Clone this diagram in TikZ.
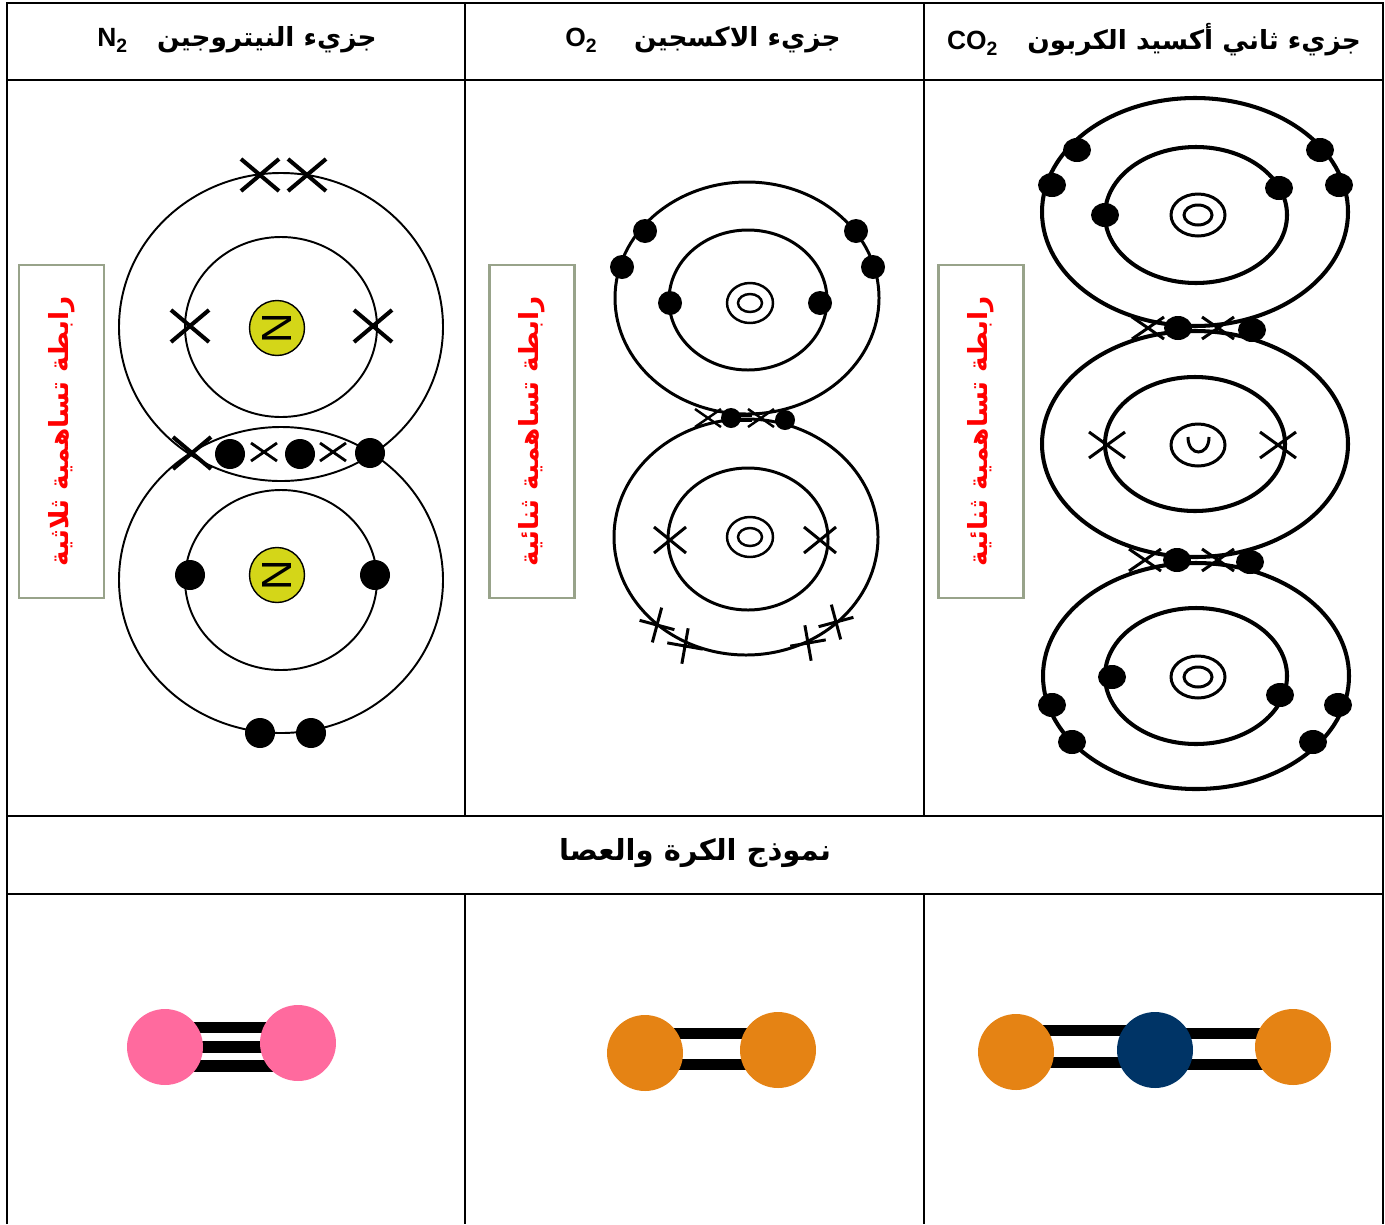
\documentclass[tikz,border=0pt]{standalone}
\usepackage{fontspec}
\usepackage{tikz}
\usetikzlibrary{backgrounds}
\setmainfont{Liberation Sans}
\newfontfamily\arabicfont[Script=Arabic]{DejaVu Sans}
\TeXXeTstate=1
\definecolor{boxgreen}{RGB}{152,163,138}
\definecolor{nitropink}{RGB}{255,106,158}
\definecolor{oxyorange}{RGB}{229,131,20}
\definecolor{carbonnavy}{RGB}{0,52,102}
\definecolor{nucleusyellow}{RGB}{212,214,24}

\newcommand{\artext}[1]{{\arabicfont\beginR #1\endR}}
\newcommand{\subtwo}{\raisebox{-0.4ex}{\fontsize{11}{11}\selectfont 2}}
% cross of half width #3 and half height #4 centred at #2
\newcommand{\ecross}[4][]{\draw[#1, shift={#2}] (-#3,-#4) -- (#3,#4) (-#3,#4) -- (#3,-#4);}
% upright cross turned by #3
\newcommand{\tcross}[4][]{\draw[#1, shift={#2}, rotate=#3] (-#4,0) -- (#4,0) (0,-#4) -- (0,#4);}

\begin{document}
\begin{tikzpicture}[x=0.02cm, y=-0.02cm]
    \tikzstyle{grid} = [line width=1.4pt]
    \tikzstyle{head} = [font=\fontsize{15}{18}\selectfont\bfseries, inner sep=0]
    \tikzstyle{bondbox} = [rectangle, draw=boxgreen, line width=1.6pt, rotate=90, minimum width=6.66cm, minimum height=1.7cm, text=red, font=\fontsize{15}{15}\selectfont\bfseries]
    \tikzstyle{nucleus} = [circle, draw, line width=0.8pt, fill=nucleusyellow, minimum size=1.1cm, inner sep=0, rotate=90, font=\fontsize{24}{24}\selectfont]
    \tikzstyle{ball} = [circle, minimum size=1.52cm, inner sep=0]
    \tikzstyle{stick} = [line width=6.3pt]
    \tikzstyle{thinshell} = [line width=1.1pt]
    \tikzstyle{shell} = [line width=1.7pt]
    \tikzstyle{thickshell} = [line width=2.3pt]

    \useasboundingbox (0,0) rectangle (1385,1224);

    % table
    \draw[grid] (7,1224) -- (7,3) -- (1383,3) -- (1383,1224);
    \draw[grid] (7,80) -- (1383,80) (7,816) -- (1383,816) (7,894) -- (1383,894);
    \draw[grid] (465,3) -- (465,816) (924,3) -- (924,816);
    \draw[grid] (465,894) -- (465,1224) (924,894) -- (924,1224);

    \node (headnitro) [head] at (237,40) {N\subtwo\hspace{0.6cm}\artext{جزيء النيتروجين}};
    \node (headoxy) [head] at (703,40) {O\subtwo\hspace{0.75cm}\artext{جزيء الاكسجين}};
    \node (headcarbon) [head] at (1154,40) {CO\subtwo\hspace{0.6cm}\artext{جزيء ثاني أكسيد الكربون}};
    \node (headmodel) [head, font=\fontsize{16.5}{18}\selectfont\bfseries] at (695,853) {\artext{نموذج الكرة والعصا}};

    \node (triplebond) [bondbox] at (61.5,431.5) {\artext{رابطة تساهمية ثلاثية}};
    \node (doublebondA) [bondbox] at (532,431.5) {\artext{رابطة تساهمية ثنائية}};
    \node (doublebondB) [bondbox] at (981,431.5) {\artext{رابطة تساهمية ثنائية}};

    % nitrogen
    \draw[thinshell] (281,327) ellipse [x radius=162, y radius=154] (281,327) ellipse [x radius=96, y radius=90];
    \draw[thinshell] (281,580) ellipse [x radius=162, y radius=153] (281,580) ellipse [x radius=96, y radius=90];
    \node (nitroA) [nucleus] at (277,328) {N};
    \node (nitroB) [nucleus] at (277,575) {N};
    \foreach \p in {(260,175),(307,175),(190,326),(373,326),(192,453)}
        {\ecross[line width=2.3pt]{\p}{19}{16}}
    \foreach \p in {(264,452),(333,452)}
        {\ecross[line width=1.6pt]{\p}{13}{9}}
    \foreach \p in {(230,454),(300,454),(370,453),(190,575),(375,575),(260,733),(311,733)}
        {\fill \p circle (15);}

    % oxygen
    \draw[shell] (747,298) ellipse [x radius=132, y radius=116] (748,300) ellipse [x radius=79, y radius=70];
    \draw[shell] (746,537) ellipse [x radius=132, y radius=118] (748,539) ellipse [x radius=80, y radius=71];
    \foreach \c in {(750,303),(750,537)}
        {\draw[line width=1.4pt] \c ellipse [x radius=23, y radius=20] \c ellipse [x radius=12, y radius=9];}
    \foreach \p in {(670,303),(820,303),(645,231),(622,267),(856,231),(873,267)}
        {\fill \p circle (12);}
    \foreach \p in {(731,418),(785,420)}
        {\fill \p circle (10);}
    \foreach \p in {(708,418),(761,418)}
        {\ecross[line width=1.4pt]{\p}{13}{9}}
    \draw[line width=0.8pt] (740,416) -- (752,416) (740,421) -- (752,421);
    \foreach \p in {(670,540),(820,540)}
        {\ecross[line width=1.7pt]{\p}{16}{13}}
    \tcross[line width=1.7pt]{(657,625)}{-15}{18}
    \tcross[line width=1.7pt]{(685,646)}{-10}{18}
    \tcross[line width=1.7pt]{(808,643)}{10}{18}
    \tcross[line width=1.7pt]{(836,622)}{15}{18}

    % carbon dioxide
    \draw[thickshell] (1195,212) ellipse [x radius=153, y radius=114] (1196,215) ellipse [x radius=91, y radius=68];
    \draw[thickshell] (1195,444) ellipse [x radius=153, y radius=113] (1195,444) ellipse [x radius=90, y radius=67];
    \draw[thickshell] (1196,676) ellipse [x radius=153, y radius=113] (1196,676) ellipse [x radius=91, y radius=68];
    \foreach \c in {(1198,215),(1198,677)}
        {\draw[line width=1.7pt] \c ellipse [x radius=27, y radius=21] \c ellipse [x radius=14, y radius=10];}
    \draw[line width=1.7pt] (1198,445) ellipse [x radius=27, y radius=21];
    \draw[line width=1.7pt] (1188,437) .. controls (1188,457) and (1209,457) .. (1209,437);
    \foreach \p in {(1077,150),(1052,185),(1320,150),(1339,185),(1105,215),(1279,188),
                    (1178,328),(1252,330),(1177,560),(1250,562),
                    (1112,677),(1280,695),(1052,705),(1072,742),(1338,705),(1313,742)}
        {\fill \p ellipse [x radius=14, y radius=12];}
    \foreach \p in {(1148,328),(1218,328),(1145,560),(1218,560)}
        {\ecross[line width=1.7pt]{\p}{16}{11}}
    \foreach \p in {(1107,445),(1278,445)}
        {\ecross[line width=1.7pt]{\p}{18}{13}}

    % ball and stick models
    \node (nitroL) [ball, fill=nitropink] at (165,1047) {};
    \node (nitroR) [ball, fill=nitropink] at (298,1043) {};
    \node (oxyL) [ball, fill=oxyorange] at (645,1053) {};
    \node (oxyR) [ball, fill=oxyorange] at (778,1050) {};
    \node (carbL) [ball, fill=oxyorange] at (1016,1052) {};
    \node (carbC) [ball, fill=carbonnavy] at (1155,1050) {};
    \node (carbR) [ball, fill=oxyorange] at (1293,1047) {};
    \begin{scope}[on background layer]
        \draw[stick] ([yshift=11pt]nitroL.center) -- ([yshift=11pt]nitroL.center -| nitroR.center);
        \draw[stick] (nitroL.center) -- (nitroL.center -| nitroR.center);
        \draw[stick] ([yshift=-10.8pt]nitroL.center) -- ([yshift=-10.8pt]nitroL.center -| nitroR.center);
        \draw[stick] ([yshift=11pt]oxyL.center) -- ([yshift=11pt]oxyL.center -| oxyR.center);
        \draw[stick] ([yshift=-6.5pt]oxyL.center) -- ([yshift=-6.5pt]oxyL.center -| oxyR.center);
        \draw[stick] ([yshift=12.5pt]carbL.center) -- ([yshift=12.5pt]carbL.center -| carbC.center);
        \draw[stick] ([yshift=-5.8pt]carbL.center) -- ([yshift=-5.8pt]carbL.center -| carbC.center);
        \draw[stick] ([yshift=9.6pt]carbC.center) -- ([yshift=9.6pt]carbC.center -| carbR.center);
        \draw[stick] ([yshift=-8.5pt]carbC.center) -- ([yshift=-8.5pt]carbC.center -| carbR.center);
    \end{scope}
\end{tikzpicture}
\end{document}
